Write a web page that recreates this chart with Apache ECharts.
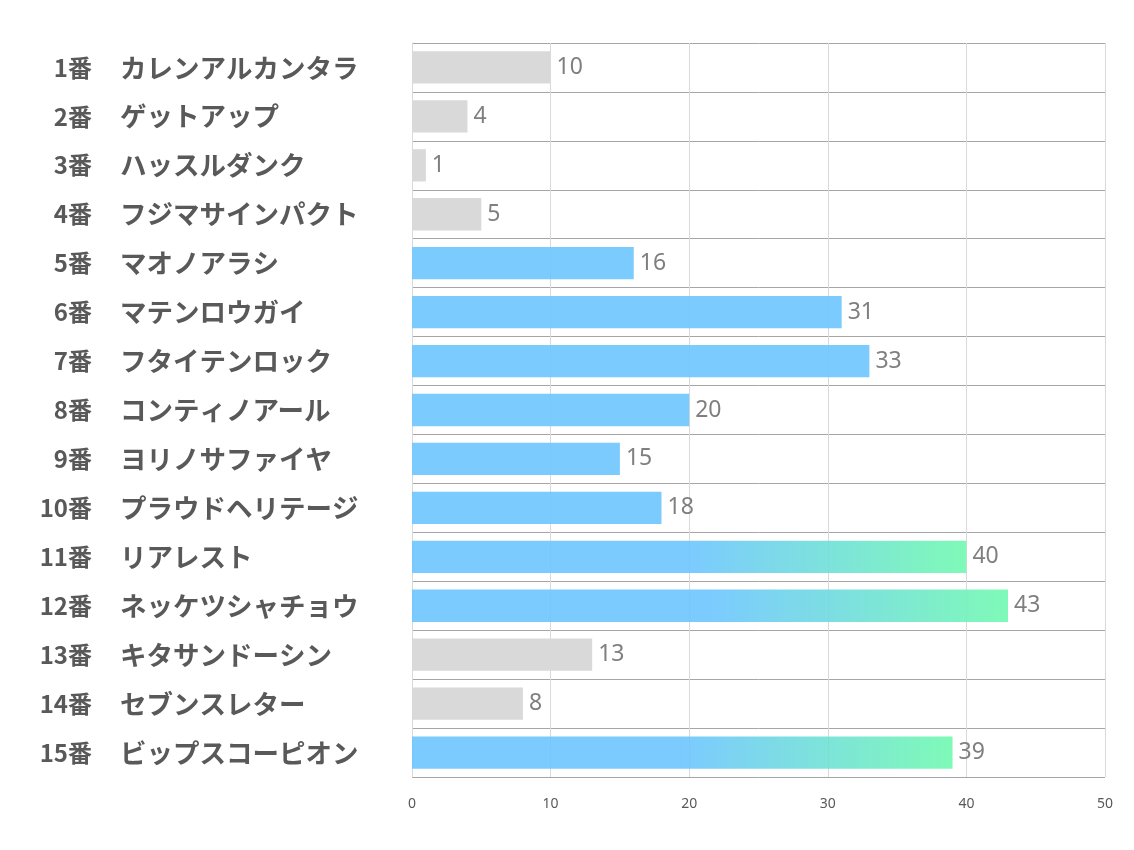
<!DOCTYPE html>
<html>
<head>
<meta charset="utf-8">
<script src="https://cdn.jsdelivr.net/npm/echarts@6/dist/echarts.min.js"></script>
<style>
  html, body { margin: 0; padding: 0; background: #fff; }
  #chart { width: 1134px; height: 850px; }
</style>
</head>
<body>
<div id="chart"></div>
<script>
  // 馬番と馬名
  var numbers = ['1番', '2番', '3番', '4番', '5番', '6番', '7番', '8番', '9番', '10番', '11番', '12番', '13番', '14番', '15番'];
  var horses = ['カレンアルカンタラ', 'ゲットアップ', 'ハッスルダンク', 'フジマサインパクト', 'マオノアラシ',
    'マテンロウガイ', 'フタイテンロック', 'コンティノアール', 'ヨリノサファイヤ', 'プラウドヘリテージ',
    'リアレスト', 'ネッケツシャチョウ', 'キタサンドーシン', 'セブンスレター', 'ビップスコーピオン'];
  var scores = [10, 4, 1, 5, 16, 31, 33, 20, 15, 18, 40, 43, 13, 8, 39];
  // 灰色の馬と上位の馬
  var grayHorses = [0, 1, 2, 3, 12, 13];
  var topHorses = [10, 11, 14];
  var xTicks = [0, 10, 20, 30, 40, 50];

  var chart = echarts.init(document.getElementById('chart'));

  var data = scores.map(function (v, i) {
    var color;
    if (grayHorses.indexOf(i) >= 0) {
      color = '#D9D9D9';
    } else if (topHorses.indexOf(i) >= 0) {
      color = new echarts.graphic.LinearGradient(0, 0, 1, 0, [
        { offset: 0, color: 'rgba(109,197,255,0.9)' },
        { offset: 0.5, color: 'rgba(109,197,255,0.9)' },
        { offset: 1, color: 'rgba(113,249,176,0.9)' }
      ]);
    } else {
      color = 'rgba(109,197,255,0.9)';
    }
    return { value: v, itemStyle: { color: color } };
  });

  var labelFont = {
    fontWeight: 'bold',
    color: '#595959',
    fontFamily: 'Noto Sans CJK JP, sans-serif'
  };

  var option = {
    animation: false,
    grid: { left: 412, right: 29, top: 43, bottom: 73, containLabel: false },
    xAxis: {
      type: 'value',
      min: xTicks[0],
      max: xTicks[xTicks.length - 1],
      interval: 10,
      axisLine: { show: false },
      axisTick: { show: false },
      axisLabel: {
        margin: 20,
        color: '#595959',
        fontSize: 14,
        fontFamily: 'Noto Sans, sans-serif'
      },
      splitLine: { lineStyle: { color: '#D9D9D9', width: 1 } }
    },
    yAxis: [{
      // 馬番（右揃え）
      type: 'category',
      inverse: true,
      data: numbers,
      axisLine: { show: true, lineStyle: { color: '#D9D9D9' } },
      axisTick: { show: false },
      splitLine: { show: true, lineStyle: { color: '#A6A6A6', width: 1 } },
      axisLabel: Object.assign({ margin: 320, fontSize: 24 }, labelFont)
    }, {
      // 馬名（左揃え）
      type: 'category',
      inverse: true,
      position: 'left',
      offset: 0,
      data: horses,
      axisLine: { show: false },
      axisTick: { show: false },
      splitLine: { show: false },
      axisLabel: Object.assign({ margin: 292, align: 'left', fontSize: 26.5 }, labelFont)
    }],
    series: [{
      type: 'bar',
      yAxisIndex: 0,
      data: data,
      barWidth: '66%',
      label: {
        show: true,
        position: 'right',
        distance: 6,
        color: '#7F7F7F',
        fontSize: 23,
        fontFamily: 'Noto Sans, sans-serif'
      }
    }]
  };

  chart.setOption(option);
</script>
</body>
</html>
